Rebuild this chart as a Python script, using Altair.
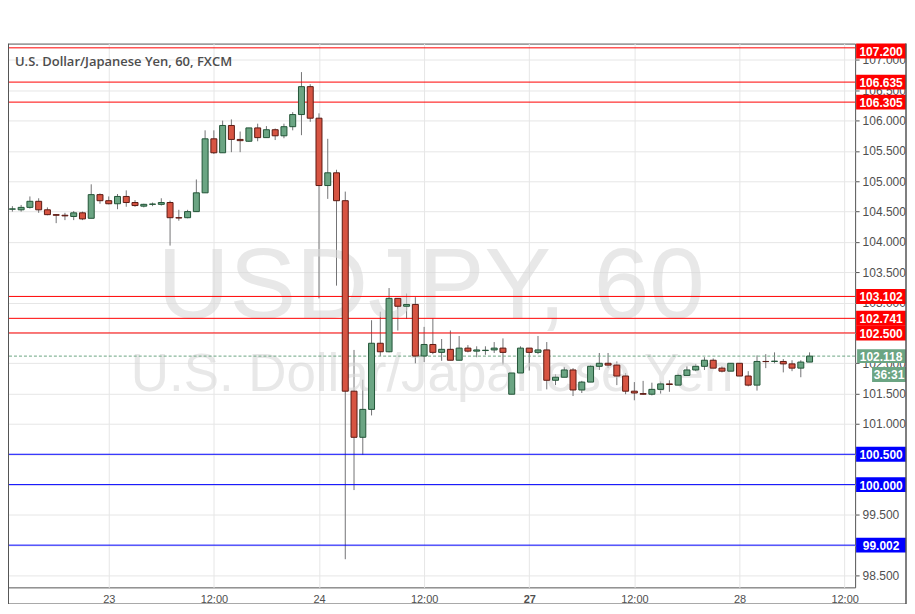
import altair as alt
import pandas as pd

# ---------------- data (hourly bars, index 0 = 23rd 00:00) ----------------
bar_index = list(range(-11, 81))
opens = [104.54, 104.53, 104.57, 104.67, 104.53, 104.45, 104.44, 104.42, 104.48, 104.39,
         104.78, 104.68, 104.63, 104.75, 104.65, 104.59, 104.62, 104.62, 104.65, 104.40,
         104.40, 104.50, 104.81, 105.70, 105.47, 105.92, 105.69, 105.66, 105.88, 105.72,
         105.85, 105.75, 105.90, 106.10, 106.56, 106.04, 104.93, 105.14, 104.68, 101.54,
         100.78, 101.24, 102.33, 102.19, 103.07, 102.94, 102.97, 102.12, 102.31, 102.18,
         102.23, 102.05, 102.25, 102.20, 102.21, 102.22, 102.25, 101.49, 101.84, 102.25,
         102.18, 102.22, 101.72, 101.77, 101.89, 101.56, 101.69, 101.95, 102.00, 101.97,
         101.79, 101.54, 101.50, 101.49, 101.57, 101.66, 101.64, 101.80, 101.89, 101.95,
         102.05, 101.92, 101.87, 102.00, 101.79, 101.64, 102.03, 102.03, 102.03, 101.99,
         101.92, 102.02]
highs = [104.59, 104.61, 104.75, 104.72, 104.57, 104.46, 104.48, 104.51, 104.50, 104.95,
         104.80, 104.75, 104.79, 104.85, 104.69, 104.63, 104.65, 104.72, 104.68, 104.53,
         104.53, 105.03, 105.84, 105.84, 106.00, 106.02, 105.82, 105.88, 105.95, 105.91,
         105.87, 105.95, 106.14, 106.80, 106.60, 106.12, 105.70, 105.19, 104.83, 102.22,
         101.73, 102.71, 102.85, 103.24, 103.07, 103.15, 103.09, 102.60, 102.74, 102.40,
         102.54, 102.45, 102.30, 102.28, 102.28, 102.35, 102.41, 101.84, 102.28, 102.25,
         102.45, 102.35, 101.82, 101.94, 101.92, 101.71, 101.97, 102.17, 102.17, 102.03,
         101.84, 101.69, 101.71, 101.68, 101.70, 101.72, 101.83, 101.95, 101.99, 102.10,
         102.08, 101.95, 102.00, 102.00, 101.87, 102.13, 102.15, 102.18, 102.07, 102.05,
         102.05, 102.18]
lows = [104.50, 104.50, 104.55, 104.48, 104.44, 104.31, 104.36, 104.36, 104.36, 104.39,
        104.63, 104.62, 104.54, 104.58, 104.58, 104.57, 104.59, 104.60, 103.94, 104.35,
        104.39, 104.50, 104.81, 105.45, 105.47, 105.48, 105.48, 105.65, 105.66, 105.72,
        105.68, 105.71, 105.84, 105.76, 105.98, 103.07, 104.71, 103.28, 98.77, 99.91,
        100.49, 101.14, 102.12, 102.18, 102.54, 102.73, 102.00, 102.02, 102.15, 102.04,
        102.05, 102.05, 102.18, 102.10, 102.14, 102.17, 101.98, 101.49, 101.84, 101.88,
        102.15, 101.57, 101.64, 101.77, 101.46, 101.51, 101.69, 101.89, 101.92, 101.64,
        101.49, 101.39, 101.48, 101.47, 101.50, 101.53, 101.64, 101.80, 101.87, 101.89,
        101.92, 101.85, 101.87, 101.79, 101.62, 101.55, 101.92, 102.00, 101.85, 101.87,
        101.77, 102.02]
closes = [104.545, 104.57, 104.67, 104.53, 104.45, 104.44, 104.43, 104.48, 104.38, 104.78,
          104.68, 104.63, 104.75, 104.65, 104.60, 104.62, 104.625, 104.65, 104.40, 104.395,
          104.50, 104.81, 105.70, 105.47, 105.92, 105.69, 105.67, 105.88, 105.72, 105.85,
          105.75, 105.90, 106.10, 106.56, 106.04, 104.93, 105.14, 104.68, 101.54, 100.78,
          101.24, 102.33, 102.19, 103.07, 102.94, 102.97, 102.12, 102.31, 102.18, 102.23,
          102.05, 102.25, 102.20, 102.22, 102.215, 102.25, 102.18, 101.84, 102.25, 102.18,
          102.22, 101.72, 101.77, 101.89, 101.56, 101.69, 101.95, 102.00, 101.97, 101.79,
          101.54, 101.51, 101.49, 101.57, 101.66, 101.65, 101.80, 101.89, 101.95, 102.05,
          101.92, 101.87, 102.00, 101.79, 101.64, 102.03, 102.028, 102.035, 101.99, 101.92,
          102.02, 102.118]

x_tick_pos = [0, 12, 24, 36, 48, 60, 72, 84]
x_tick_labels = ["23", "12:00", "24", "12:00", "27", "12:00", "28", "12:00"]
y_tick_values = [98.5, 99.0, 99.5, 100.0, 100.5, 101.0, 101.5, 102.0, 102.5, 103.0,
                 103.5, 104.0, 104.5, 105.0, 105.5, 106.0, 106.5, 107.0]

level_values = [107.200, 106.635, 106.305, 103.102, 102.741, 102.500, 100.500, 100.000, 99.002]
level_kind = ["resistance"] * 6 + ["support"] * 3
last_price = 102.118
countdown = "36:31"

title_text = "U.S. Dollar/Japanese Yen, 60, FXCM"
watermark_main = "USDJPY, 60"
watermark_sub = "U.S. Dollar/Japanese Yen"

# ---------------- styling ----------------
UP_FILL, DOWN_FILL = "#6ba583", "#d75442"
UP_LINE, DOWN_LINE = "#225437", "#5b1a13"
WICK = "#737375"
RED, BLUE = "#ff0000", "#0000ff"
W, H = 849, 545
Y_DOMAIN = [98.306, 107.27]
X_DOMAIN = [-11.5, 85.2]

bars = pd.DataFrame({"i": bar_index, "open": opens, "high": highs,
                     "low": lows, "close": closes})
levels = pd.DataFrame({"v": level_values, "kind": level_kind,
                       "label": [f"{v:.3f}" for v in level_values]})
price = pd.DataFrame({"v": [last_price], "label": [f"{last_price:.3f}"], "cd": [countdown]})

label_expr = " : ".join(
    f"datum.value == {p} ? '{l}'" for p, l in zip(x_tick_pos, x_tick_labels)) + " : ''"

xs = alt.Scale(domain=X_DOMAIN, nice=False, zero=False, padding=0)
ys = alt.Scale(domain=Y_DOMAIN, nice=False, zero=False, padding=0)

x_axis = alt.Axis(values=x_tick_pos, labelExpr=label_expr, orient="bottom",
                  grid=True, gridColor="#e6e6e6", ticks=False, domain=False,
                  labelOverlap=False, labelFlush=False, labelBound=False,
                  labelFont="Liberation Sans", labelFontSize=11,
                  labelColor="#4f4f4f", labelPadding=6, title=None,
                  labelFontWeight={"condition": {"test": "datum.value == 48", "value": "bold"},
                                   "value": "normal"})
y_axis = alt.Axis(values=y_tick_values, format=".3f", orient="right",
                  grid=True, gridColor="#e6e6e6", domain=False,
                  labelOverlap=False, labelFlush=False, labelBound=False,
                  tickColor="#555", tickSize=4, labelPadding=3, title=None,
                  labelFont="Liberation Sans", labelFontSize=12,
                  labelColor="#4f4f4f")


def Yq(field):
    return alt.Y(field, type="quantitative", scale=ys, axis=y_axis, title=None)


def Xq(field):
    return alt.X(field, type="quantitative", scale=xs, axis=x_axis, title=None)


base = alt.Chart(bars)

wicks = base.mark_rule(color=WICK, strokeWidth=1).encode(
    x=Xq("i"), y=Yq("low"), y2="high:Q")

bodies = base.mark_bar(size=6, strokeWidth=1).encode(
    x=Xq("i"),
    y=Yq("open"),
    y2="close:Q",
    fill=alt.condition("datum.close >= datum.open", alt.value(UP_FILL), alt.value(DOWN_FILL)),
    stroke=alt.condition("datum.close >= datum.open", alt.value(UP_LINE), alt.value(DOWN_LINE)),
)

wm1 = alt.Chart(pd.DataFrame({"t": [watermark_main]})).mark_text(
    font="Liberation Sans", fontSize=100, color="#d9d9d9", opacity=0.6,
    align="center", baseline="middle").encode(
    text="t:N", x=alt.value(424), y=alt.value(245))
wm2 = alt.Chart(pd.DataFrame({"t": [watermark_sub]})).mark_text(
    font="Liberation Sans", fontSize=53, color="#d9d9d9", opacity=0.6,
    align="center", baseline="middle").encode(
    text="t:N", x=alt.value(425), y=alt.value(332))

lvl_color = alt.Color("kind:N", scale=alt.Scale(domain=["resistance", "support"],
                                                range=[RED, BLUE]), legend=None)
lvl_lines = alt.Chart(levels).mark_rule(strokeWidth=1).encode(
    y=Yq("v"), color=lvl_color)

lvl_boxes = alt.Chart(levels).transform_calculate(
    top=f"min(datum.v + 0.123, {Y_DOMAIN[1]})",
    bot=f"min(datum.v + 0.123, {Y_DOMAIN[1]}) - 0.246",
).mark_rect().encode(
    x=alt.value(850), x2=alt.value(900),
    y=Yq("top"), y2="bot:Q", color=lvl_color)
lvl_text = alt.Chart(levels).transform_calculate(
    mid=f"min(datum.v + 0.123, {Y_DOMAIN[1]}) - 0.123",
).mark_text(font="Liberation Sans", fontSize=12, fontWeight="bold", color="white",
            align="center", baseline="middle", dy=1).encode(
    x=alt.value(875), y=Yq("mid"), text="label:N")

price_line = alt.Chart(price).mark_rule(color=UP_FILL, strokeDash=[3, 2], strokeWidth=1).encode(
    y=Yq("v"))
price_box = alt.Chart(price).mark_rect(color=UP_FILL, yOffset=-7, y2Offset=7).encode(
    x=alt.value(851), x2=alt.value(900), y=Yq("v"), y2="v:Q")
price_text = alt.Chart(price).mark_text(font="Liberation Sans", fontSize=12, fontWeight="bold",
                                        color="white", align="center", baseline="middle",
                                        dy=1).encode(
    x=alt.value(875), y=Yq("v"), text="label:N")
cd_box = alt.Chart(price).mark_rect(color=UP_FILL, yOffset=11, y2Offset=26).encode(
    x=alt.value(866), x2=alt.value(900), y=Yq("v"), y2="v:Q")
cd_text = alt.Chart(price).mark_text(font="Liberation Sans", fontSize=12, fontWeight="bold",
                                     color="white", align="center", baseline="middle",
                                     dy=19).encode(
    x=alt.value(883), y=Yq("v"), text="cd:N")

title = alt.Chart(pd.DataFrame({"t": [title_text]})).mark_text(
    font="Open Sans", fontSize=13, fontWeight=600, color="#4d4d4d",
    align="left", baseline="middle").encode(text="t:N", x=alt.value(7), y=alt.value(18))

frame_r = alt.Chart(pd.DataFrame({"a": [0]})).mark_rule(color="#555", strokeWidth=1.5).encode(
    x=alt.value(900), y=alt.value(0), y2=alt.value(562))
frame_b = alt.Chart(pd.DataFrame({"a": [0]})).mark_rule(color="#555", strokeWidth=1.5).encode(
    x=alt.value(0), x2=alt.value(900), y=alt.value(562))
frame_l = alt.Chart(pd.DataFrame({"a": [0]})).mark_rule(color="#555", strokeWidth=1).encode(
    x=alt.value(0.5), y=alt.value(0), y2=alt.value(562))

chart = alt.layer(
    wicks, wm1, wm2, lvl_lines, price_line, bodies,
    lvl_boxes, lvl_text, price_box, price_text, cd_box, cd_text, title,
    frame_r, frame_b, frame_l,
).properties(
    width=W, height=H,
    autosize=alt.AutoSizeParams(type="none"),
    padding={"left": 0, "top": 35, "right": 52, "bottom": 16},
    background="white",
).configure_view(stroke="#555", strokeWidth=1).configure_axis(
    labelOverlap=False, labelFlush=False)

chart.save("out.html", embed_options={"renderer": "svg", "actions": False})
